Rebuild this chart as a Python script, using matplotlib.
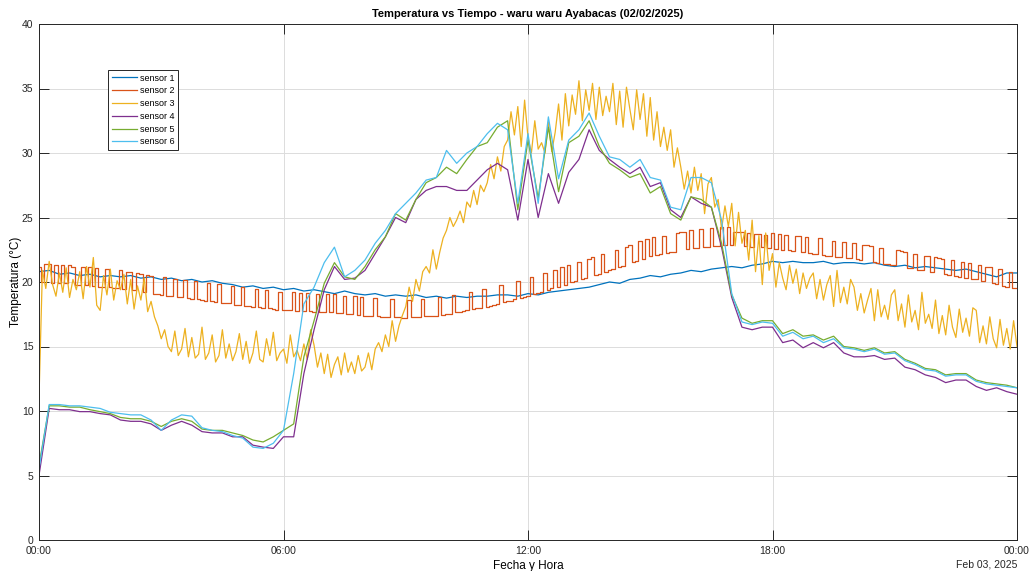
import numpy as np
import pandas as pd
import matplotlib
matplotlib.use("Agg")
import matplotlib.pyplot as plt
import matplotlib.dates as mdates

plt.rcParams['font.family'] = ['Liberation Sans', 'DejaVu Sans']

# sensor 1, 4, 5, 6 sampled every 15 min; sensor 2 and 3 every 5 min
sensor1 = [20.8, 20.9, 20.6, 20.7, 20.5, 20.6, 20.4, 20.5, 20.4, 20.5, 20.3, 20.4,
           20.2, 20.3, 20.1, 20.2, 20.0, 20.1, 19.9, 19.8, 19.6, 19.7, 19.5, 19.6,
           19.4, 19.5, 19.3, 19.4, 19.25, 19.1, 19.3, 19.1, 19.0, 19.1, 18.9, 19.0,
           18.9, 19.0, 18.8, 18.9, 18.75, 18.9, 18.8, 18.9, 18.9, 19.0, 19.0, 18.9,
           19.1, 19.0, 19.2, 19.3, 19.4, 19.5, 19.6, 19.8, 20.0, 19.9, 20.2, 20.3,
           20.5, 20.4, 20.6, 20.7, 20.9, 20.8, 21.0, 21.1, 21.2, 21.1, 21.3, 21.4,
           21.6, 21.5, 21.6, 21.5, 21.5, 21.6, 21.4, 21.5, 21.5, 21.4, 21.5, 21.3,
           21.2, 21.3, 21.1, 21.2, 21.1, 21.0, 20.9, 21.0, 20.8, 20.6, 20.4, 20.7,
           20.7]

sensor2 = [21.2, 20.0, 21.4, 21.4, 19.9, 21.3, 19.9, 21.3, 19.9, 21.3, 21.2, 19.8,
           19.8, 21.2, 19.75, 21.15, 19.7, 21.1, 19.65, 19.65, 21.0, 19.6, 19.55, 19.55,
           20.9, 19.45, 20.8, 20.8, 19.35, 20.7, 20.65, 19.2, 20.55, 20.5, 19.1, 19.05,
           19.0, 20.35, 18.95, 18.9, 20.25, 18.85, 18.8, 20.15, 18.75, 18.7, 20.05, 18.65,
           18.6, 18.55, 19.95, 18.5, 18.45, 19.85, 18.4, 18.35, 18.35, 19.7, 18.25, 18.25,
           19.6, 18.15, 18.15, 18.1, 19.45, 18.05, 18.0, 19.35, 17.95, 17.9, 17.85, 19.25,
           17.8, 17.8, 17.8, 19.2, 17.75, 19.15, 17.75, 19.15, 17.75, 17.7, 19.1, 17.7,
           17.7, 19.1, 17.65, 19.05, 17.6, 17.6, 18.95, 17.55, 17.5, 18.9, 17.45, 18.85,
           17.4, 17.4, 17.35, 18.75, 17.35, 17.3, 17.3, 17.3, 18.65, 17.25, 17.25, 17.2,
           17.2, 18.6, 17.25, 17.25, 17.3, 18.7, 17.35, 17.35, 17.4, 17.4, 18.85, 17.45,
           17.5, 17.55, 19.0, 17.65, 17.7, 17.75, 17.8, 19.25, 17.9, 17.95, 18.0, 19.45,
           18.1, 18.15, 18.25, 18.3, 19.75, 18.45, 18.5, 18.55, 18.65, 20.1, 18.75, 18.85,
           18.9, 20.4, 19.05, 19.15, 19.25, 20.7, 19.4, 19.5, 20.95, 19.65, 21.15, 19.8,
           21.3, 20.0, 20.05, 21.55, 20.25, 20.3, 21.8, 21.9, 20.55, 20.65, 22.15, 20.8,
           20.9, 21.0, 22.5, 21.2, 21.25, 22.75, 22.85, 21.55, 21.65, 23.15, 21.8, 23.3,
           22.0, 23.45, 22.1, 22.15, 23.6, 22.25, 22.3, 22.35, 23.8, 23.85, 23.9, 22.55,
           24.0, 22.6, 22.65, 24.1, 22.7, 22.75, 24.15, 22.8, 22.8, 24.25, 22.85, 24.3,
           22.9, 23.9, 23.85, 23.85, 22.8, 23.8, 22.75, 23.75, 23.7, 22.7, 23.65, 22.65,
           23.8, 22.55, 23.75, 22.5, 23.65, 22.45, 22.4, 23.55, 23.55, 22.3, 23.45, 22.25,
           22.2, 22.15, 23.4, 22.1, 22.05, 22.05, 23.2, 21.95, 21.95, 23.1, 21.85, 21.85,
           23.0, 21.75, 21.7, 22.9, 22.85, 22.8, 21.55, 21.5, 22.65, 21.4, 21.4, 21.35,
           21.3, 22.45, 22.4, 22.35, 21.1, 21.05, 22.2, 20.95, 20.9, 22.05, 22.0, 20.75,
           21.9, 21.85, 21.8, 20.6, 20.55, 21.7, 20.45, 20.4, 21.55, 20.3, 21.5, 20.25,
           20.2, 21.35, 20.1, 21.2, 21.15, 19.9, 19.85, 21.0, 19.7, 19.65, 20.8, 19.55,
           19.5]

sensor3 = [11.0, 20.9, 19.5, 21.6, 19.8, 18.9, 20.7, 19.2, 21.1, 18.8, 20.2, 19.4,
           20.8, 18.7, 21.2, 19.6, 21.9, 18.2, 17.8, 20.5, 19.0, 21.0, 18.6, 20.1,
           19.4, 20.6, 18.3, 20.2, 17.9, 19.7, 18.6, 20.3, 17.7, 18.5, 17.3, 16.6,
           15.6, 16.3, 15.0, 14.6, 16.2, 14.3, 14.8, 16.4, 14.2, 15.7, 14.1, 14.4,
           16.5, 14.0, 14.5, 15.9, 13.8, 14.3, 16.3, 14.1, 15.2, 13.9, 14.6, 16.0,
           14.0, 15.4, 13.7, 14.5, 16.2, 14.0, 13.8, 15.6, 14.3, 16.1, 13.9, 14.5,
           14.8, 13.7, 15.9, 14.2, 14.7, 13.9, 15.2, 14.0, 16.3, 15.1, 13.4, 14.5,
           12.9, 14.4, 12.6, 13.6, 14.2, 12.8, 14.5, 13.0, 13.8, 12.9, 14.3, 13.1,
           13.4, 14.5, 13.2, 14.8, 15.3, 14.6, 15.9, 15.0, 17.0, 15.4, 16.6, 17.4,
           18.1, 19.6, 18.5, 20.2, 19.3, 20.8, 21.2, 20.7, 22.5, 21.0, 22.3, 23.4,
           24.0, 25.0, 24.3, 24.8, 25.5, 24.6, 26.2, 25.8, 27.1, 26.0, 27.5, 27.0,
           27.7, 29.1, 28.0, 29.7, 28.6, 30.5, 31.0, 33.2, 31.4, 33.6, 30.5, 34.1,
           31.2, 30.0, 32.5, 30.3, 30.8, 30.0, 32.4, 30.1, 31.6, 33.8, 31.0, 34.6,
           32.1, 34.5, 33.0, 35.6, 32.5, 34.9, 33.3, 35.4, 32.6, 35.1, 32.9, 34.4,
           33.2, 35.4, 32.2, 34.8, 32.0, 35.1, 33.4, 31.8, 34.9, 32.6, 34.6, 31.3,
           34.3, 31.0, 33.2, 30.5, 32.0, 30.2, 31.8, 28.9, 30.4, 28.9, 27.2, 28.6,
           26.9, 28.9, 27.1, 28.4, 25.3, 27.6, 28.1, 25.8, 26.4, 24.1, 25.9, 24.3,
           26.1, 22.8, 25.4, 23.0, 24.0, 21.7, 24.8, 20.8, 23.6, 19.8, 23.8, 20.9,
           22.2, 19.6, 21.5, 20.3, 19.4, 21.3, 19.9, 21.0, 19.1, 20.7, 19.5, 20.3,
           20.7, 18.7, 20.2, 18.6, 19.8, 20.5, 18.1, 20.9, 18.4, 19.6, 18.3, 20.2,
           19.6, 17.8, 19.1, 17.6, 18.6, 19.5, 17.0, 19.4, 17.3, 18.2, 17.1, 19.0,
           19.4, 17.0, 18.3, 16.5, 19.0, 16.9, 17.8, 16.3, 19.2, 16.8, 17.5, 16.4,
           18.6, 16.0, 17.4, 15.9, 18.2, 16.5, 15.7, 17.9, 16.1, 17.2, 15.8, 18.0,
           17.8, 15.3, 16.6, 15.2, 17.3, 15.6, 14.9, 17.1, 15.1, 16.4, 14.8, 17.0,
           15.0]

sensor4 = [5.0, 10.2, 10.1, 10.1, 9.95, 9.95, 9.8, 9.7, 9.3, 9.2, 9.2, 9.0,
           8.5, 8.9, 9.2, 8.9, 8.4, 8.3, 8.3, 8.0, 8.0, 7.35, 7.2, 7.1,
           8.0, 8.0, 12.9, 16.3, 19.4, 21.2, 20.2, 20.3, 20.9, 22.2, 23.5, 25.0,
           24.6, 26.4, 27.1, 27.4, 27.4, 27.1, 27.1, 27.9, 28.7, 29.2, 28.7, 24.8,
           29.5, 25.0, 28.4, 26.1, 28.5, 29.5, 31.8, 30.2, 29.5, 28.9, 28.4, 28.9,
           27.4, 27.7, 25.6, 25.0, 26.6, 26.1, 25.8, 22.7, 18.8, 16.5, 16.3, 16.5,
           16.5, 15.3, 15.5, 14.9, 15.3, 14.9, 15.3, 14.5, 14.2, 14.2, 14.3, 14.0,
           14.1, 13.4, 13.2, 12.8, 12.6, 12.2, 12.4, 12.4, 11.9, 11.6, 11.8, 11.5,
           11.3]

sensor5 = [5.8, 10.4, 10.4, 10.3, 10.3, 10.1, 9.95, 9.8, 9.5, 9.4, 9.4, 9.2,
           8.8, 9.2, 9.4, 9.2, 8.6, 8.5, 8.5, 8.3, 8.1, 7.75, 7.6, 8.0,
           8.5, 9.0, 14.2, 17.0, 19.9, 21.5, 20.4, 20.2, 21.2, 22.5, 23.5, 25.3,
           24.8, 26.4, 27.7, 28.1, 28.9, 28.4, 29.5, 30.5, 30.8, 32.0, 32.5, 25.6,
           31.0, 26.5, 32.0, 27.0, 30.8, 31.3, 32.5, 30.5, 29.2, 28.7, 28.1, 28.4,
           26.9, 27.4, 25.3, 24.8, 26.6, 26.4, 25.8, 23.0, 19.0, 17.2, 16.8, 17.0,
           17.0, 16.0, 16.3, 15.8, 15.9, 15.5, 15.8, 15.0, 14.9, 14.7, 14.9, 14.5,
           14.6, 14.0, 13.7, 13.3, 13.2, 12.8, 12.9, 12.9, 12.4, 12.2, 12.1, 12.0,
           11.8]

sensor6 = [5.5, 10.5, 10.5, 10.4, 10.4, 10.3, 10.2, 9.9, 9.8, 9.7, 9.7, 9.3,
           8.5, 9.3, 9.7, 9.6, 8.7, 8.5, 8.4, 8.1, 7.9, 7.2, 7.1, 7.5,
           8.5, 12.9, 18.3, 19.6, 21.5, 22.7, 20.4, 20.9, 21.7, 23.0, 24.0, 25.3,
           26.1, 26.9, 27.9, 28.1, 30.2, 29.2, 30.0, 30.5, 31.5, 32.3, 31.8, 26.1,
           31.5, 26.1, 32.8, 28.0, 31.0, 31.8, 33.1, 31.3, 29.7, 29.5, 28.9, 29.5,
           28.1, 27.9, 25.8, 25.6, 28.1, 28.1, 27.7, 24.8, 19.1, 16.9, 16.7, 16.9,
           16.8, 15.8, 16.1, 15.6, 15.8, 15.3, 15.6, 14.9, 14.8, 14.6, 14.8, 14.4,
           14.5, 13.9, 13.6, 13.2, 13.1, 12.7, 12.8, 12.8, 12.3, 12.1, 12.0, 11.9,
           11.8]

labels = ["sensor 1", "sensor 2", "sensor 3", "sensor 4", "sensor 5", "sensor 6"]
colors = ["#0072BD", "#D95319", "#EDB120", "#7E2F8E", "#77AC30", "#4DBEEE"]

t15 = pd.date_range("2025-02-02 00:00", periods=97, freq="15min")
t5 = pd.date_range("2025-02-02 00:00", periods=289, freq="5min")
series = [(t15, sensor1, "default"), (t5, sensor2, "steps-mid"), (t5, sensor3, "default"),
          (t15, sensor4, "default"), (t15, sensor5, "default"), (t15, sensor6, "default")]

fig = plt.figure(figsize=(10.34, 5.71), dpi=100)
ax = fig.add_axes([39 / 1034, 31 / 571, 978 / 1034, 516 / 571])

for (t, y, ds), lab, c in zip(series, labels, colors):
    ax.plot(t, y, color=c, linewidth=0.9, label=lab, drawstyle=ds)

ax.set_xlim(pd.Timestamp("2025-02-02 00:00"), pd.Timestamp("2025-02-03 00:00"))
ax.set_ylim(0, 40)
ax.set_yticks(np.arange(0, 41, 5))
ax.xaxis.set_major_locator(mdates.HourLocator(byhour=[0, 6, 12, 18]))
ax.xaxis.set_major_formatter(mdates.DateFormatter("%H:%M"))

ax.grid(True, color="#dcdcdc", linewidth=0.7)
ax.set_axisbelow(True)
ax.tick_params(direction="in", length=7, width=0.7, top=True, right=True,
               labelsize=7.5, colors="#262626", pad=4)
for s in ax.spines.values():
    s.set_color("#262626")
    s.set_linewidth(0.7)

ax.set_title("Temperatura vs Tiempo - waru waru Ayabacas (02/02/2025)",
             fontsize=8, fontweight="bold", pad=5)
ax.set_xlabel("Fecha y Hora", fontsize=8.5, labelpad=3)
ax.set_ylabel("Temperatura (°C)", fontsize=8.5, labelpad=0)
ax.text(1.0, -0.048, "Feb 03, 2025", transform=ax.transAxes, ha="right",
        va="center", fontsize=7.5, color="#262626")

leg = ax.legend(loc="upper left", bbox_to_anchor=(0.0706, 0.911), borderaxespad=0,
                fontsize=6.5, handlelength=2.8, handletextpad=0.35, labelspacing=0.42,
                borderpad=0.4, fancybox=False, framealpha=1)
leg.get_frame().set_edgecolor("#262626")
leg.get_frame().set_linewidth(0.7)

fig.savefig("out.png", dpi=100)
